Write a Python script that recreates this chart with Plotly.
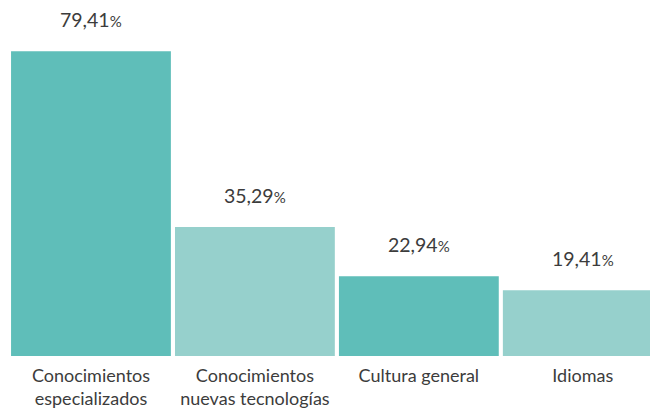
import plotly.graph_objects as go

categories = ["Conocimientos<br>especializados", "Conocimientos<br>nuevas tecnologías", "Cultura general", "Idiomas"]
values = [79.41, 35.29, 22.94, 19.41]
value_labels = ["79,41", "35,29", "22,94", "19,41"]
colors = ["#5FBEB9", "#96D0CC", "#5FBEB9", "#96D0CC"]

FONT = "Lato, sans-serif"
TXT = "#3c3c3c"

fig = go.Figure(go.Bar(
    x=categories, y=values, marker=dict(color=colors, line=dict(width=0)),
    hoverinfo="skip",
))

for c, v, lab in zip(categories, values, value_labels):
    fig.add_annotation(
        x=c, y=v, xref="x", yref="y", yanchor="bottom", yshift=18,
        text=f"{lab}<span style='font-size:15px'>%</span>",
        showarrow=False, font=dict(family=FONT, size=19.5, color=TXT),
    )

fig.update_layout(
    width=650, height=412,
    margin=dict(l=8.5, r=0, t=29, b=56),
    paper_bgcolor="white", plot_bgcolor="white",
    bargap=0.025, showlegend=False,
    xaxis=dict(range=[-0.5, 3.41], showgrid=False, zeroline=False, showline=False,
               ticks="", tickfont=dict(family=FONT, size=18, color=TXT),
               ticklabelstandoff=7, fixedrange=True),
    yaxis=dict(range=[2.9, 85], visible=False, fixedrange=True),
)

fig.write_html(
    "out.html",
    config={"displayModeBar": False, "staticPlot": True},
    post_script="document.body.style.margin='0';document.body.style.overflow='hidden';",
)
